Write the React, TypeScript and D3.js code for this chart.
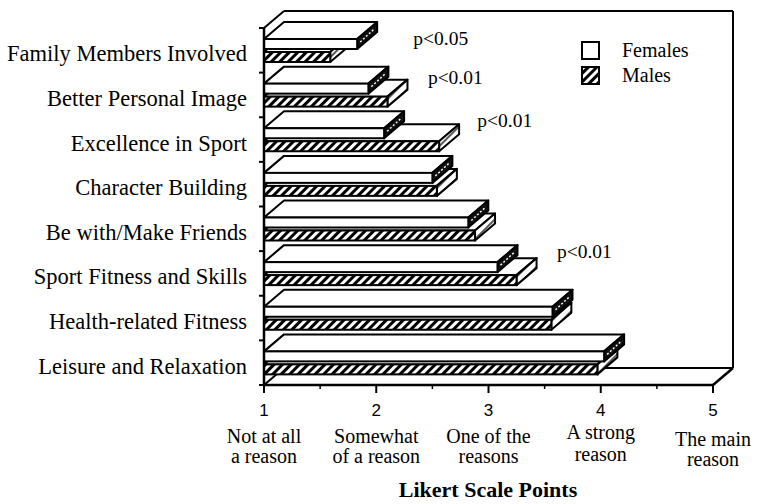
import React from "react";
import * as d3 from "d3";

const categories = [
  "Family Members Involved",
  "Better Personal Image",
  "Excellence in Sport",
  "Character Building",
  "Be with/Make Friends",
  "Sport Fitness and Skills",
  "Health-related Fitness",
  "Leisure and Relaxation",
];
const females = [1.83, 1.93, 2.07, 2.5, 2.82, 3.08, 3.57, 4.03];
const males = [1.59, 2.1, 2.56, 2.54, 2.88, 3.25, 3.56, 3.97];

const tickValues = [1, 2, 3, 4, 5];
const tickLine1 = ["Not at all", "Somewhat", "One of the", "A strong", "The main"];
const tickLine2 = ["a reason", "of a reason", "reasons", "reason", "reason"];

const sigCategories = [
  "Family Members Involved",
  "Better Personal Image",
  "Excellence in Sport",
  "Sport Fitness and Skills",
];
const sigLabels = ["p<0.05", "p<0.01", "p<0.01", "p<0.01"];
const sigAt = [2.33, 2.46, 2.9, 3.61];

const seriesNames = ["Females", "Males"];

// layout
const W = 761, H = 504;
const DX = 20, DY = -17;
const SERIF = "'Liberation Serif', 'Times New Roman', serif";
const SANS = "'Liberation Sans', Arial, sans-serif";
const sigDy = [17, 11, 10, 7];
const line1Y = [443, 443, 443, 439, 446];
const line2Y = [463, 463, 463, 461, 466];

export default function App() {
  const x = d3.scaleLinear().domain([1, 5]).range([264, 713]);
  const y = d3.scaleBand().domain(categories).range([28, 385]).padding(0);
  const bw = y.bandwidth();
  const x0 = x(1);
  const yTop = y.range()[0];
  const yBot = y.range()[1];
  const xEnd = x(5);
  const barH = 10;

  const bar = (v: number, y0: number, kind: "f" | "m", key: string) => {
    const xv = x(v);
    const top = `M${x0},${y0} L${xv},${y0} L${xv + DX},${y0 + DY} L${x0 + DX},${y0 + DY} Z`;
    const side = `M${xv},${y0} L${xv + DX},${y0 + DY} L${xv + DX},${y0 + DY + barH} L${xv},${y0 + barH} Z`;
    return (
      <g key={key}>
        <path d={top} fill="#fff" stroke="#000" strokeWidth={2} strokeLinejoin="round" />
        <path d={side} fill={kind === "f" ? "#111" : "url(#hatchSide)"} stroke="#000" strokeWidth={2} strokeLinejoin="round" />
        {kind === "f" && (
          <line
            x1={xv + 3}
            y1={y0 + barH / 2 - 2}
            x2={xv + DX - 3}
            y2={y0 + DY + barH / 2 + 2}
            stroke="#fff"
            strokeWidth={1.4}
            strokeDasharray="2 2"
          />
        )}
        <rect
          x={x0}
          y={y0}
          width={xv - x0}
          height={barH}
          fill={kind === "f" ? "#fff" : "url(#hatch)"}
          stroke="#000"
          strokeWidth={2}
        />
      </g>
    );
  };

  const minorTicks = d3.range(1.5, 5, 1);

  return (
    <svg width={W} height={H} style={{ position: "absolute", left: 0, top: 0, background: "#fff" }}>
      <defs>
        <pattern id="hatch" patternUnits="userSpaceOnUse" width={6} height={6} patternTransform="rotate(45)">
          <rect width={6} height={6} fill="#fff" />
          <line x1={1.5} y1={0} x2={1.5} y2={6} stroke="#000" strokeWidth={3} />
        </pattern>
        <pattern id="hatchSide" patternUnits="userSpaceOnUse" width={7} height={7} patternTransform="rotate(45)">
          <rect width={7} height={7} fill="#fff" />
          <line x1={1} y1={0} x2={1} y2={7} stroke="#000" strokeWidth={1.3} />
        </pattern>
      </defs>

      {/* back wall & floor */}
      <g fill="none" stroke="#000" strokeWidth={2}>
        <line x1={x0 + DX} y1={yTop + DY} x2={xEnd + DX} y2={yTop + DY} />
        <line x1={xEnd + DX} y1={yTop + DY} x2={xEnd + DX} y2={yBot + DY} />
        <line x1={x0 + DX} y1={yBot + DY} x2={xEnd + DX} y2={yBot + DY} />
        <line x1={x0} y1={yTop} x2={x0 + DX} y2={yTop + DY} />
        <line x1={x0} y1={yBot} x2={x0 + DX} y2={yBot + DY} />
        <line x1={xEnd} y1={yBot} x2={xEnd + DX} y2={yBot + DY} strokeWidth={2.5} />
      </g>

      {/* bars: male below drawn first, female above */}
      {categories.map((c, i) => {
        const t = y(c)!;
        return (
          <g key={c}>
            {bar(males[i], t + 24, "m", "m" + i)}
            {bar(females[i], t + 11, "f", "f" + i)}
          </g>
        );
      })}

      {/* axes */}
      <line x1={x0} y1={yTop} x2={x0} y2={yBot} stroke="#000" strokeWidth={2.5} />
      <line x1={x0} y1={yBot} x2={xEnd} y2={yBot} stroke="#000" strokeWidth={2.5} />
      {d3.range(categories.length + 1).map((i) => {
        const yy = yTop + i * bw;
        return <line key={"lt" + i} x1={x0 - 5} y1={yy} x2={x0} y2={yy} stroke="#000" strokeWidth={2} />;
      })}
      {tickValues.map((v) => (
        <line key={"bt" + v} x1={x(v)} y1={yBot} x2={x(v)} y2={yBot + 8} stroke="#000" strokeWidth={2} />
      ))}
      {minorTicks.map((v) => (
        <line key={"mt" + v} x1={x(v)} y1={yBot} x2={x(v)} y2={yBot + 4} stroke="#000" strokeWidth={1.5} />
      ))}

      {/* category labels */}
      {categories.map((c) => (
        <text
          key={"cl" + c}
          x={247}
          y={y(c)! + bw / 2 + 11}
          textAnchor="end"
          fontFamily={SERIF}
          fontSize={22.5}
          fill="#000"
        >
          {c}
        </text>
      ))}

      {/* x tick labels */}
      {tickValues.map((v, i) => (
        <g key={"tl" + v}>
          <text x={x(v)} y={416} textAnchor="middle" fontFamily={SANS} fontSize={17} fill="#000">
            {v}
          </text>
          <text x={x(v)} y={line1Y[i]} textAnchor="middle" fontFamily={SERIF} fontSize={20} fill="#000">
            {tickLine1[i]}
          </text>
          <text x={x(v)} y={line2Y[i]} textAnchor="middle" fontFamily={SERIF} fontSize={20} fill="#000">
            {tickLine2[i]}
          </text>
        </g>
      ))}

      <text x={488} y={497} textAnchor="middle" fontFamily={SERIF} fontWeight="bold" fontSize={22} fill="#000">
        Likert Scale Points
      </text>

      {/* significance notes */}
      {sigCategories.map((c, i) => (
        <text key={"sig" + i} x={x(sigAt[i])} y={y(c)! + sigDy[i]} fontFamily={SERIF} fontSize={19.5} fill="#000">
          {sigLabels[i]}
        </text>
      ))}

      {/* legend */}
      {seriesNames.map((s, i) => (
        <g key={"lg" + s}>
          <rect
            x={582}
            y={42 + i * 25}
            width={17}
            height={17}
            fill={i === 0 ? "#fff" : "url(#hatch)"}
            stroke="#000"
            strokeWidth={2}
          />
          <text x={622} y={57 + i * 25} fontFamily={SERIF} fontSize={20} fill="#000">
            {s}
          </text>
        </g>
      ))}
    </svg>
  );
}
